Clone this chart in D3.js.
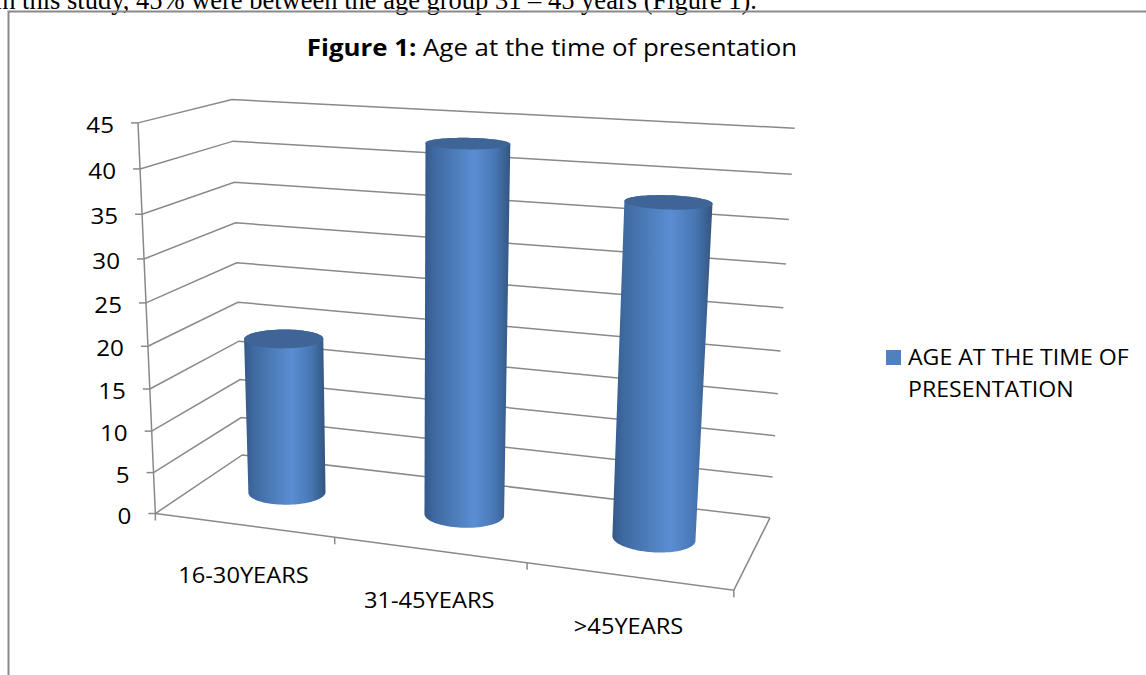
<!DOCTYPE html>
<html><head><meta charset="utf-8">
<script src="https://cdn.jsdelivr.net/npm/d3@7"></script>
<style>body{margin:0;background:#fff;} svg{display:block;}</style>
</head><body>
<svg id="chart" width="1146" height="675"></svg>
<script>
// ---------------- data ----------------
const categories = ["16-30YEARS", "31-45YEARS", ">45YEARS"];
const values = [19, 43, 38];
const yTicks = [0, 5, 10, 15, 20, 25, 30, 35, 40, 45];
const seriesName = "AGE AT THE TIME OF PRESENTATION";
const legendLines = ["AGE AT THE TIME OF", "PRESENTATION"];
const titleBold = "Figure 1:";
const titleRest = " Age at the time of presentation";
const captionText = "In this study, 45% were between the age group 31 \u2013 45 years (Figure 1).";

// ---------------- scales ----------------
const xBand = d3.scaleBand().domain(categories).range([0, 1]);
const yScale = d3.scaleLinear().domain([0, 45]).range([0, 1]);

// ---------------- 3-D camera fitted to the box outline ----------------
// [X, Y, Z, screenX, screenY]  (X: category axis 0..1, Y: value 0..1, Z: depth 0 front..1 back)
const calib = [
  [0, 1, 0, 138, 125], [0, 20/45, 0, 147, 345], [0, 0, 0, 155, 513],
  [0, 1, 1, 232, 99],  [0, 20/45, 1, 238, 301], [0, 0, 1, 243, 456],
  [1, 1, 1, 794, 128], [1, 40/45, 1, 793, 174], [1, 5/45, 1, 772, 478], [1, 0, 1, 769, 518],
  [1/3, 0, 0, 335, 538], [2/3, 0, 0, 527, 563], [1, 0, 0, 735, 589]
];
const CX = 450, CY = 340, S = 300;
function solve(A, b) {
  const n = b.length;
  const M = A.map((r, i) => r.concat([b[i]]));
  for (let c = 0; c < n; c++) {
    let p = c;
    for (let r = c + 1; r < n; r++) if (Math.abs(M[r][c]) > Math.abs(M[p][c])) p = r;
    [M[c], M[p]] = [M[p], M[c]];
    for (let r = 0; r < n; r++) {
      if (r === c) continue;
      const f = M[r][c] / M[c][c];
      for (let k = c; k <= n; k++) M[r][k] -= f * M[c][k];
    }
  }
  return M.map((r, i) => r[n] / r[i]);
}
const N = 11;
const AtA = Array.from({length: N}, () => new Array(N).fill(0));
const Atb = new Array(N).fill(0);
function addRow(r, b) {
  for (let i = 0; i < N; i++) { Atb[i] += r[i] * b; for (let j = 0; j < N; j++) AtA[i][j] += r[i] * r[j]; }
}
calib.forEach(([X, Y, Z, u0, v0]) => {
  const u = (u0 - CX) / S, v = (v0 - CY) / S;
  addRow([X, Y, Z, 1, 0, 0, 0, 0, -u * X, -u * Y, -u * Z], u);
  addRow([0, 0, 0, 0, X, Y, Z, 1, -v * X, -v * Y, -v * Z], v);
});
const P = solve(AtA, Atb);
function project(X, Y, Z) {
  const w = P[8] * X + P[9] * Y + P[10] * Z + 1;
  const u = (P[0] * X + P[1] * Y + P[2] * Z + P[3]) / w;
  const v = (P[4] * X + P[5] * Y + P[6] * Z + P[7]) / w;
  return [u * S + CX, v * S + CY];
}

// ---------------- drawing ----------------
const svg = d3.select("#chart");
const font = "'Open Sans', 'Noto Sans', sans-serif";
const gridColor = "#898989";
const line = d3.line();
const SX = 1.1; // horizontal text stretch of the original figure

function addText(parent, x, y, str, size, anchor) {
  return parent.append("text")
    .attr("transform", `translate(${x},${y}) scale(${SX},1)`)
    .attr("text-anchor", anchor)
    .attr("font-family", font).attr("font-size", size).attr("fill", "#000").text(str);
}

// caption (cut off by the page top) and frame
svg.append("text").attr("x", 757).attr("y", 9).attr("text-anchor", "end")
  .attr("font-family", "'Liberation Serif', 'Times New Roman', serif").attr("font-size", 26.5)
  .attr("fill", "#000").text(captionText);
svg.append("path").attr("d", "M8.5,675 L8.5,11.5 L1146,11.5")
  .attr("fill", "none").attr("stroke", "#8a8a8a").attr("stroke-width", 2);

// title
const title = svg.append("text").attr("transform", `translate(552,56) scale(${SX},1)`)
  .attr("text-anchor", "middle")
  .attr("font-family", font).attr("font-size", 23.5).attr("fill", "#000");
title.append("tspan").attr("font-weight", "bold").text(titleBold);
title.append("tspan").text(titleRest);

// gridlines: left wall + back wall
const g = svg.append("g");
yTicks.forEach(t => {
  const y = yScale(t);
  g.append("path").attr("d", line([project(0, y, 0), project(0, y, 1), project(1, y, 1)]))
    .attr("fill", "none").attr("stroke", gridColor).attr("stroke-width", 1.5);
});
// floor front + right edges
g.append("path").attr("d", line([project(0, 0, 0), project(1, 0, 0), project(1, 0, 1)]))
  .attr("fill", "none").attr("stroke", gridColor).attr("stroke-width", 1.5);
// value axis line
g.append("path").attr("d", line([project(0, 0, 0), project(0, 1, 0)]))
  .attr("fill", "none").attr("stroke", gridColor).attr("stroke-width", 1.5);
// value ticks + labels
yTicks.forEach(t => {
  const [px, py] = project(0, yScale(t), 0);
  g.append("line").attr("x1", px - 7).attr("x2", px).attr("y1", py).attr("y2", py)
    .attr("stroke", gridColor).attr("stroke-width", 1.5);
  addText(g, px - 24, py + 10, t, 22, "end");
});
// category ticks
const xEdges = categories.map(c => xBand(c)).concat([1]);
xEdges.forEach(x => {
  const [px, py] = project(x, 0, 0);
  g.append("line").attr("x1", px).attr("x2", px).attr("y1", py).attr("y2", py + 7)
    .attr("stroke", gridColor).attr("stroke-width", 1.5);
});
// category labels
categories.forEach(c => {
  const [px, py] = project(xBand(c) + xBand.bandwidth() / 2, 0, 0);
  addText(g, px, py + 58, c, 21.5, "middle");
});

// cylinders
const defs = svg.append("defs");
const grad = defs.append("linearGradient").attr("id", "cylSide").attr("x1", 0).attr("x2", 1).attr("y1", 0).attr("y2", 0);
[[0, "#34598a"], [0.12, "#3f6aa1"], [0.58, "#5a8ed2"], [0.82, "#4877b4"], [1, "#33557f"]]
  .forEach(([o, c]) => grad.append("stop").attr("offset", o).attr("stop-color", c));

const zc = 0.52, rz = 0.19, rx = xBand.bandwidth() * 0.207;
const angles = d3.range(0, 360, 4).map(a => a * Math.PI / 180);
const cyl = svg.append("g");
categories.forEach((c, i) => {
  const xc = xBand(c) + xBand.bandwidth() / 2;
  const top = yScale(values[i]);
  const bot = angles.map(a => project(xc + rx * Math.cos(a), 0, zc + rz * Math.sin(a)));
  const tp = angles.map(a => project(xc + rx * Math.cos(a), top, zc + rz * Math.sin(a)));
  const hull = d3.polygonHull(bot.concat(tp));
  cyl.append("path").attr("d", "M" + hull.join("L") + "Z").attr("fill", "url(#cylSide)");
  cyl.append("path").attr("d", "M" + tp.join("L") + "Z").attr("fill", "#3e6596");
});

// legend
const lg = svg.append("g");
lg.append("rect").attr("x", 886).attr("y", 350).attr("width", 15).attr("height", 15).attr("fill", "#4f81bd");
legendLines.forEach((l, i) => addText(lg, 908, 365 + i * 32, l, 21, "start"));
</script>
</body></html>
